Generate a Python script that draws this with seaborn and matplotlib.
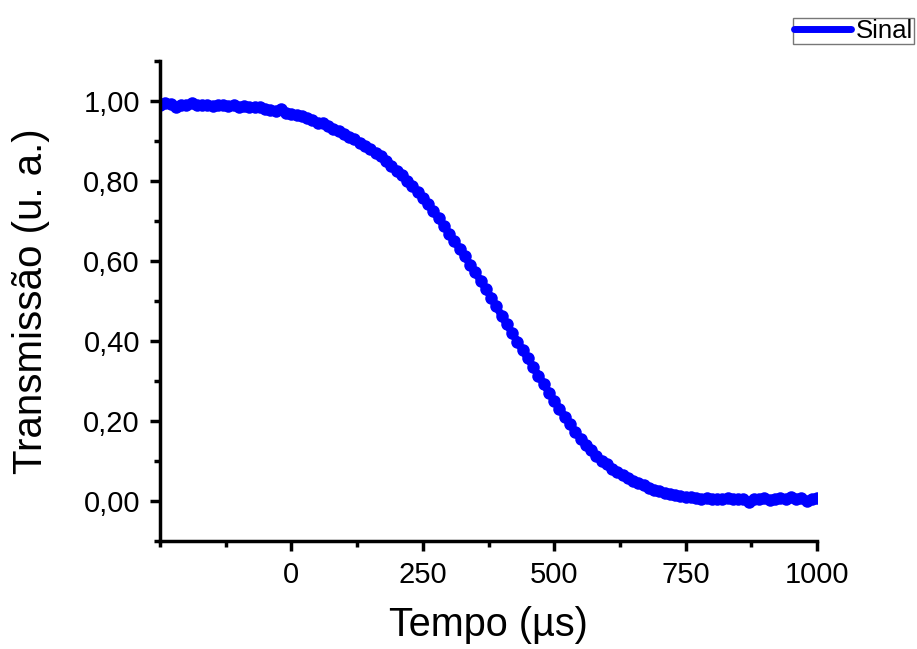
import matplotlib
matplotlib.use('Agg')
import matplotlib.pyplot as plt
import seaborn as sns
import pandas as pd
from matplotlib.ticker import MultipleLocator, FuncFormatter
from matplotlib.lines import Line2D

# Dados
tempo = list(range(-250, 1001, 10))
transmissao = [
    0.990, 0.995, 0.992, 0.984, 0.991, 0.990, 0.996, 0.990, 0.989, 0.991,
    0.988, 0.990, 0.989, 0.987, 0.989, 0.986, 0.987, 0.985, 0.984, 0.986,
    0.980, 0.978, 0.976, 0.979, 0.970, 0.967, 0.964, 0.962, 0.958, 0.952,
    0.946, 0.944, 0.938, 0.930, 0.924, 0.917, 0.909, 0.906, 0.896, 0.888,
    0.879, 0.870, 0.862, 0.849, 0.838, 0.826, 0.815, 0.800, 0.787, 0.772,
    0.757, 0.741, 0.724, 0.706, 0.688, 0.668, 0.650, 0.630, 0.612, 0.590,
    0.571, 0.550, 0.530, 0.508, 0.486, 0.462, 0.441, 0.419, 0.398, 0.376,
    0.356, 0.334, 0.313, 0.292, 0.270, 0.250, 0.230, 0.210, 0.191, 0.172,
    0.155, 0.140, 0.126, 0.112, 0.100, 0.091, 0.080, 0.071, 0.064, 0.056,
    0.050, 0.044, 0.038, 0.032, 0.027, 0.024, 0.020, 0.017, 0.014, 0.012,
    0.010, 0.008, 0.007, 0.005, 0.006, 0.004, 0.005, 0.004, 0.006, 0.003,
    0.005, 0.004, -0.003, 0.005, 0.004, 0.006, 0.002, 0.005, 0.007, 0.004,
    0.008, 0.003, 0.006, -0.002, 0.005, 0.006,
]
x_ticks = [0, 250, 500, 750, 1000]
y_ticks = [0.0, 0.2, 0.4, 0.6, 0.8, 1.0]

df = pd.DataFrame({'tempo': tempo, 'transmissao': transmissao})

sns.set_style('ticks')
plt.rcParams['font.family'] = ['Liberation Sans', 'DejaVu Sans']
plt.rcParams['text.color'] = 'black'
plt.rcParams['axes.labelcolor'] = 'black'

fig = plt.figure(figsize=(9.17, 6.49), dpi=100)
ax = fig.add_axes([0.1745, 0.167, 0.7165, 0.739])

sns.lineplot(data=df, x='tempo', y='transmissao', ax=ax, color='#0000ff',
             linewidth=5.5, marker='o', markersize=9, markeredgewidth=0)

ax.set_xlim(-250, 1000)
ax.set_ylim(-0.1, 1.1)
ax.set_xticks(x_ticks)
ax.set_yticks(y_ticks)
ax.xaxis.set_minor_locator(MultipleLocator(125))
ax.yaxis.set_minor_locator(MultipleLocator(0.1))
ax.yaxis.set_major_formatter(FuncFormatter(lambda v, p: f"{v:.2f}".replace('.', ',')))

for s in ['top', 'right']:
    ax.spines[s].set_visible(False)
for s in ['left', 'bottom']:
    ax.spines[s].set_linewidth(2.5)
    ax.spines[s].set_color('black')
ax.tick_params(which='major', length=7, width=2.5, labelsize=21, direction='out',
               colors='black')
ax.tick_params(axis='y', which='major', pad=7.5)
ax.tick_params(axis='x', which='major', pad=8)
ax.tick_params(which='minor', length=4, width=2.5, direction='out', colors='black')

ax.set_xlabel('Tempo (µs)', fontsize=28.5, labelpad=12)
ax.set_ylabel('Transmissão (u. a.)', fontsize=29)
ax.yaxis.set_label_coords(-0.168, 0.5)

handle = Line2D([], [], color='#0000ff', linewidth=5)
leg = fig.legend([handle], ['Sinal'], loc='upper right', bbox_to_anchor=(0.997, 0.973),
                 fontsize=18.5, frameon=True, fancybox=False, handlelength=2.2,
                 borderpad=0.05, handletextpad=0.2, borderaxespad=0)
leg.get_frame().set_edgecolor('#555555')
leg.get_frame().set_linewidth(1)
for t in leg.get_texts():
    t.set_color('black')

fig.savefig('out.png', dpi=100)
